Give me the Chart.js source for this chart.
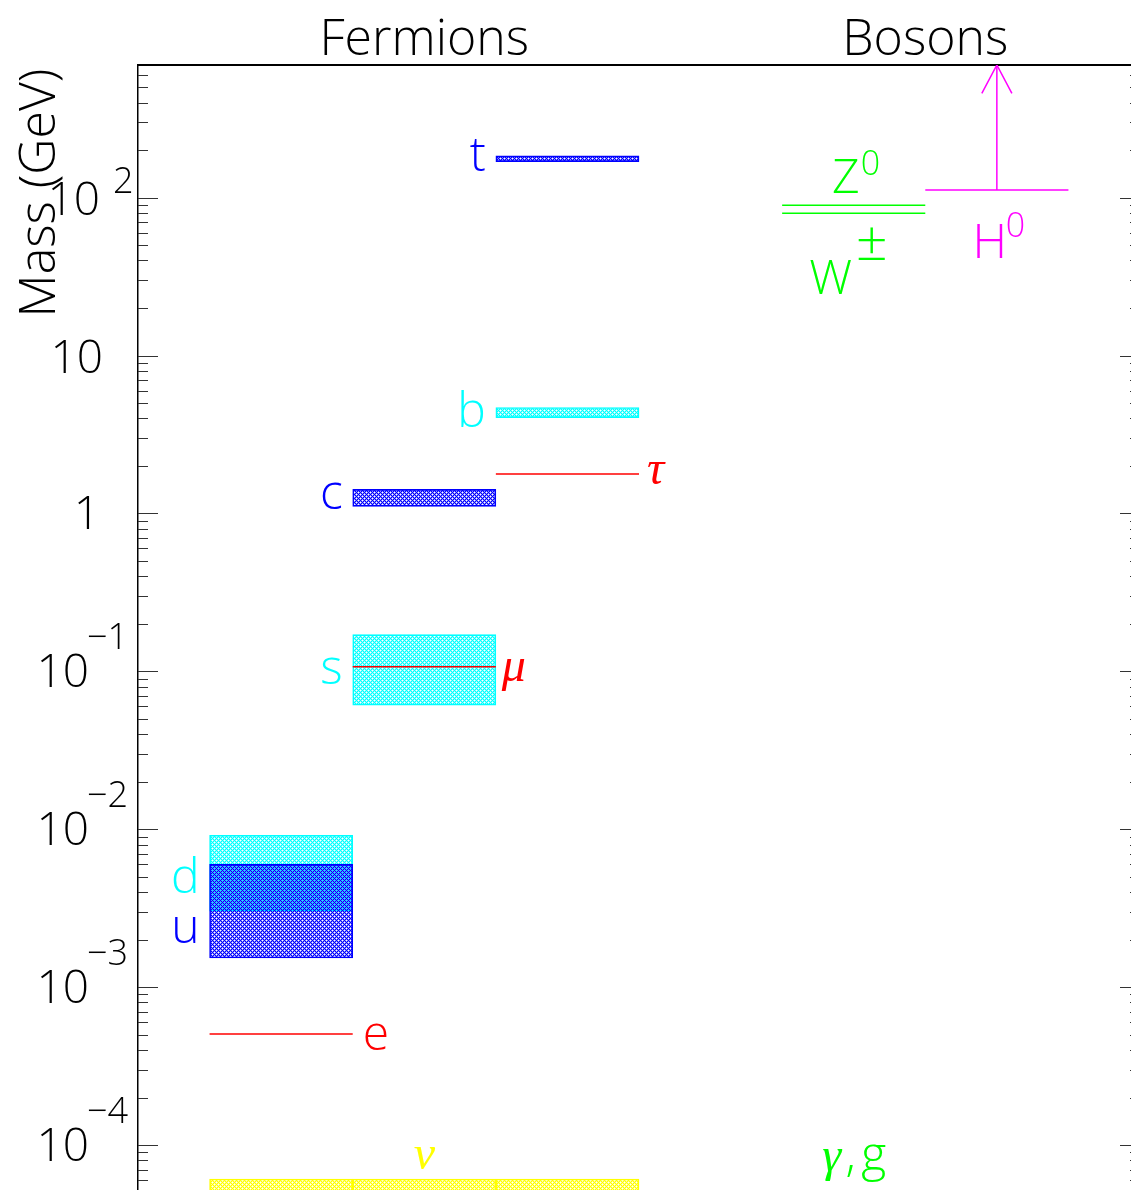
<!DOCTYPE html>
<html>
<head>
<meta charset="utf-8">
<script src="https://cdn.jsdelivr.net/npm/chart.js@4.4.1/dist/chart.umd.min.js"></script>
<style>
    html, body { margin: 0; padding: 0; background: #fff; overflow: hidden; }
    /* a little wider/taller than the window: right and bottom frame fall off the picture */
    .chart-box { width: 1150px; height: 1205px; position: relative; }
</style>
</head>
<body>
<div class="chart-box"><canvas id="massChart"></canvas></div>
<script>
    // x positions (category index) of the columns
    const columns = ['', 'gen1', 'gen2', 'gen3', '', 'gauge', 'higgs', ''];

    // quark mass ranges (GeV)
    const quarkNames = ['u', 'd', 's', 'c', 'b', 't'];
    const quarkColumn = [1, 1, 2, 2, 3, 3];
    const quarkLow  = [0.00153, 0.00303, 0.061, 1.11, 4.05, 169];
    const quarkHigh = [0.0060, 0.00916, 0.171, 1.42, 4.69, 184];
    const quarkColor = ['#0000ff', '#00ffff', '#00ffff', '#0000ff', '#00ffff', '#0000ff'];

    // charged leptons (GeV)
    const leptonNames = ['e', 'μ', 'τ'];
    const leptonColumn = [1, 2, 3];
    const leptonMass = [0.000505, 0.107, 1.78];

    // neutrino upper limit over the three generations
    const neutrinoColumns = [1, 2, 3];
    const neutrinoLimit = 6.1e-5;

    // gauge bosons, Higgs lower limit
    const bosonNames = ['Z⁰', 'W±'];
    const bosonColumn = 5;
    const bosonMass = [89.5, 79.6];
    const higgsColumn = 6;
    const higgsLimit = 112;

    // y axis range and ticks
    const yMin = 4.49e-5;
    const yMax = 692;
    const tickExponents = [-4, -3, -2, -1, 0, 1, 2];
    const minorFactors = [2, 3, 4, 5, 6, 7, 8, 9];

    const FONT = '"Open Sans", "DejaVu Sans", sans-serif';
    const GREEK = '"Liberation Serif", "DejaVu Serif", serif';

    // diagonal cross hatch, 4px period; hole centres transparent, hole arms half filled
    function hatch(color, shift) {
        const c = document.createElement('canvas');
        c.width = 4; c.height = 4;
        const g = c.getContext('2d');
        g.fillStyle = color;
        for (let x = 0; x < 4; x++) {
            for (let y = 0; y < 4; y++) {
                const a = (x + y + shift) % 4, b = (x - y + shift + 8) % 4;
                if (a === 0 || b === 0) {
                    g.globalAlpha = 1;
                } else if (a === 2 && b === 2) {
                    continue;
                } else {
                    g.globalAlpha = 0.45;
                }
                g.fillRect(x, y, 1, 1);
            }
        }
        return g.createPattern(c, 'repeat');
    }

    function floatingBar(label, cols, low, high, color, shift, order) {
        return {
            type: 'bar',
            label: label,
            data: columns.map((_, k) => cols.includes(k) ? [low, high] : null),
            backgroundColor: hatch(color, shift),
            borderColor: color,
            borderWidth: 1,
            borderSkipped: false,
            grouped: false,
            barPercentage: 1,
            categoryPercentage: 1,
            order: order
        };
    }

    function levelLine(label, col, mass, color) {
        return {
            type: 'line',
            label: label,
            xAxisID: 'x2',
            data: [{x: col - 0.5, y: mass}, {x: col + 0.5, y: mass}],
            borderColor: color,
            borderWidth: 1.5,
            pointRadius: 0,
            fill: false,
            order: -1
        };
    }

    const datasets = [];
    quarkNames.forEach((name, i) => {
        datasets.push(floatingBar(name, [quarkColumn[i]], quarkLow[i], quarkHigh[i], quarkColor[i], i === 1 ? 2 : 0, i));
    });
    datasets.push(floatingBar('ν', neutrinoColumns, yMin, neutrinoLimit, '#ffff00', 0, 10));
    leptonNames.forEach((name, i) => {
        datasets.push(levelLine(name, leptonColumn[i], leptonMass[i], '#ff0000'));
    });
    bosonNames.forEach((name, i) => {
        datasets.push(levelLine(name, bosonColumn, bosonMass[i], '#00ff00'));
    });
    datasets.push(levelLine('H⁰', higgsColumn, higgsLimit, '#ff00ff'));
    // arrow: Higgs mass only bounded from below
    const headY = yMax * Math.pow(10, -0.18);
    datasets.push({
        type: 'line', label: 'H arrow', xAxisID: 'x2',
        data: [{x: higgsColumn, y: higgsLimit}, {x: higgsColumn, y: yMax}],
        borderColor: '#ff00ff', borderWidth: 1.5, pointRadius: 0, fill: false, order: -1
    });
    datasets.push({
        type: 'line', label: 'H head', xAxisID: 'x2',
        data: [{x: higgsColumn - 0.105, y: headY}, {x: higgsColumn, y: yMax}, {x: higgsColumn + 0.105, y: headY}],
        borderColor: '#ff00ff', borderWidth: 1.5, pointRadius: 0, fill: false, order: -1
    });

    const labelPlugin = {
        id: 'massLabels',
        afterDraw(chart) {
            const ctx = chart.ctx;
            const area = chart.chartArea;
            const xs = chart.scales.x2;
            const ys = chart.scales.y;
            const px = v => xs.getPixelForValue(v);
            const py = v => ys.getPixelForValue(v);
            const mid = (a, b) => Math.sqrt(a * b);
            ctx.save();

            // tick marks, inside, both sides
            ctx.strokeStyle = '#333';
            ctx.lineWidth = 1;
            for (let e = -5; e <= 2; e++) {
                [1].concat(minorFactors).forEach(f => {
                    const v = f * Math.pow(10, e);
                    if (v < yMin || v > yMax) return;
                    const y = Math.round(py(v)) + 0.5;
                    const len = f === 1 ? 20 : 10;
                    ctx.beginPath();
                    ctx.moveTo(area.left, y); ctx.lineTo(area.left + len, y);
                    ctx.moveTo(area.right, y); ctx.lineTo(area.right - len, y);
                    ctx.stroke();
                });
            }

            // tick labels
            ctx.fillStyle = '#000';
            ctx.textBaseline = 'alphabetic';
            tickExponents.forEach(e => {
                const y = py(Math.pow(10, e));
                ctx.font = '300 46px ' + FONT;
                ctx.textAlign = 'right';
                if (e === 0) {
                    ctx.fillText('1', 100, y + 16);
                } else if (e === 1) {
                    ctx.fillText('10', 103, y + 17);
                } else if (e > 1) {
                    ctx.fillText('10', 100, y + 17);
                    ctx.font = '300 36px ' + FONT;
                    ctx.textAlign = 'left';
                    ctx.fillText(String(e), 113, y - 5);
                } else {
                    ctx.fillText('10', 89, y + 16);
                    ctx.font = '300 36px ' + FONT;
                    ctx.textAlign = 'left';
                    ctx.fillText('\u2212' + (-e), 87, y - 22);
                }
            });

            // column titles and axis title
            ctx.font = '300 50px ' + FONT;
            ctx.textAlign = 'center';
            ctx.fillText('Fermions', px(2), 55);
            ctx.fillText('Bosons', (px(bosonColumn) + px(higgsColumn)) / 2, 55);
            ctx.save();
            ctx.translate(55, 193);
            ctx.rotate(-Math.PI / 2);
            ctx.fillText('Mass (GeV)', 0, 0);
            ctx.restore();

            // quark labels, left of each box
            const quarkDy = [32, 20, 14, 11, 14, 12];
            ctx.font = '300 48px ' + FONT;
            ctx.textAlign = 'right';
            quarkNames.forEach((name, i) => {
                ctx.fillStyle = quarkColor[i];
                const xl = px(quarkColumn[i] - 0.5) - 10;
                ctx.fillText(name, xl, py(mid(quarkLow[i], quarkHigh[i])) + quarkDy[i]);
            });

            // lepton labels, right of each line
            ctx.fillStyle = '#ff0000';
            ctx.textAlign = 'left';
            const leptonDy = [16, 14, 10];
            const leptonDx = [10, 6, 8];
            leptonNames.forEach((name, i) => {
                ctx.font = i === 0 ? '300 48px ' + FONT : 'italic 48px ' + GREEK;
                ctx.fillText(name, px(leptonColumn[i] + 0.5) + leptonDx[i], py(leptonMass[i]) + leptonDy[i]);
            });

            // neutrino and massless bosons
            ctx.textAlign = 'center';
            ctx.fillStyle = '#ffff00';
            ctx.font = 'italic 48px ' + GREEK;
            ctx.fillText('ν', px(2), py(neutrinoLimit) - 10);
            ctx.fillStyle = '#00ff00';
            ctx.fillText('γ', px(bosonColumn) - 22, py(neutrinoLimit) - 8);
            ctx.font = '300 48px ' + FONT;
            ctx.fillText(',', px(bosonColumn) - 3, py(neutrinoLimit) - 8);
            ctx.fillText('g', px(bosonColumn) + 20, py(neutrinoLimit) - 8);

            // Z, W, H with raised marks
            function raised(base, sup, xc, yb, color, supDx, supDy, supSize) {
                ctx.fillStyle = color;
                ctx.font = '300 48px ' + FONT;
                ctx.textAlign = 'center';
                ctx.fillText(base, xc, yb);
                ctx.font = '300 ' + supSize + 'px ' + FONT;
                ctx.textAlign = 'left';
                ctx.fillText(sup, xc + supDx, yb + supDy);
            }
            raised('Z', '0', px(bosonColumn) - 8, py(bosonMass[0]) - 12, '#00ff00', 15, -18, 34);
            raised('W', '±', px(bosonColumn) - 23, py(bosonMass[1]) + 81, '#00ff00', 25, -34, 56);
            raised('H', '0', px(higgsColumn) - 7, py(higgsLimit) + 68, '#ff00ff', 16, -21, 34);

            ctx.restore();
        }
    };

    new Chart(document.getElementById('massChart'), {
        type: 'bar',
        data: { labels: columns, datasets: datasets },
        options: {
            responsive: true,
            maintainAspectRatio: false,
            devicePixelRatio: 1,
            animation: false,
            layout: { padding: { left: 138, top: 65, right: 10, bottom: 5 } },
            plugins: { legend: { display: false }, tooltip: { enabled: false } },
            scales: {
                x: {
                    type: 'category',
                    position: 'top',
                    offset: false,
                    ticks: { display: false },
                    grid: { display: false, drawTicks: false },
                    border: { display: true, color: '#000', width: 2 }
                },
                x2: { type: 'linear', min: 0, max: 7, offset: false, display: false },
                y: {
                    type: 'logarithmic',
                    min: yMin,
                    max: yMax,
                    ticks: { display: false },
                    grid: { display: false, drawTicks: false },
                    border: { display: true, color: '#000', width: 1.5 }
                }
            }
        },
        plugins: [labelPlugin]
    });
</script>
</body>
</html>
